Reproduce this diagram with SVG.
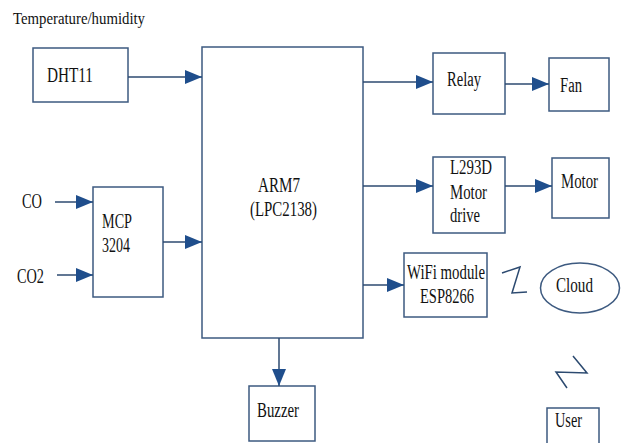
<svg xmlns="http://www.w3.org/2000/svg" width="626" height="443" viewBox="0 0 626 443">
<style>
.box{fill:#fff;stroke:#3d5a80;stroke-width:1.5}
.t{font-family:"Liberation Serif",serif;font-size:20px;fill:#111}
.c{fill:none;stroke:#2c4a70;stroke-width:1.5}
.z{fill:none;stroke:#2c4a70;stroke-width:1.5;stroke-linejoin:miter}
</style>
<defs>
<marker id="ah" markerUnits="userSpaceOnUse" markerWidth="17" markerHeight="14" refX="17" refY="7" orient="auto">
<path d="M0,0 L17,7 L0,14 z" fill="#1f4e8c"/>
</marker>
</defs>
<rect width="626" height="443" fill="#fff"/>
<text class="t" x="13" y="24" style="font-size:16.5px" textLength="132" lengthAdjust="spacingAndGlyphs">Temperature/humidity</text>
<text class="t" x="22" y="208" textLength="20" lengthAdjust="spacingAndGlyphs">CO</text>
<text class="t" x="17" y="283" textLength="27" lengthAdjust="spacingAndGlyphs">CO2</text>
<g id="dht11"><rect class="box" x="33" y="48" width="95" height="54"/><text class="t" x="47" y="82" textLength="46" lengthAdjust="spacingAndGlyphs">DHT11</text></g>
<g id="mcp"><rect class="box" x="93" y="187" width="70" height="110"/><text class="t" x="102" y="228" textLength="30" lengthAdjust="spacingAndGlyphs">MCP</text><text class="t" x="102" y="252" textLength="28" lengthAdjust="spacingAndGlyphs">3204</text></g>
<g id="arm7"><rect class="box" x="202" y="47" width="161" height="291"/><text class="t" x="258" y="192" textLength="42" lengthAdjust="spacingAndGlyphs">ARM7</text><text class="t" x="250" y="216" textLength="67" lengthAdjust="spacingAndGlyphs">(LPC2138)</text></g>
<g id="relay"><rect class="box" x="433" y="53" width="72" height="61"/><text class="t" x="447" y="86" textLength="34" lengthAdjust="spacingAndGlyphs">Relay</text></g>
<g id="fan"><rect class="box" x="549" y="58" width="60" height="53"/><text class="t" x="560" y="92" textLength="22" lengthAdjust="spacingAndGlyphs">Fan</text></g>
<g id="l293d"><rect class="box" x="433" y="157" width="72" height="76"/><text class="t" x="450" y="174" textLength="42" lengthAdjust="spacingAndGlyphs">L293D</text><text class="t" x="450" y="199" textLength="37" lengthAdjust="spacingAndGlyphs">Motor</text><text class="t" x="450" y="222" textLength="30" lengthAdjust="spacingAndGlyphs">drive</text></g>
<g id="motor"><rect class="box" x="552" y="158" width="57" height="60"/><text class="t" x="561" y="188" textLength="37" lengthAdjust="spacingAndGlyphs">Motor</text></g>
<g id="wifi"><rect class="box" x="404" y="253" width="83" height="64"/><text class="t" x="407" y="279" textLength="78" lengthAdjust="spacingAndGlyphs">WiFi module</text><text class="t" x="420" y="303" textLength="54" lengthAdjust="spacingAndGlyphs">ESP8266</text></g>
<g id="cloud"><ellipse class="box" cx="580" cy="288" rx="39.5" ry="25"/><text class="t" x="556" y="292" textLength="37" lengthAdjust="spacingAndGlyphs">Cloud</text></g>
<g id="user"><rect class="box" x="547" y="408" width="52" height="40"/><text class="t" x="555" y="427" textLength="27" lengthAdjust="spacingAndGlyphs">User</text></g>
<g id="buzzer"><rect class="box" x="249" y="386" width="66" height="55"/><text class="t" x="257" y="417" textLength="42" lengthAdjust="spacingAndGlyphs">Buzzer</text></g>
<g id="connectors">
<line class="c" x1="128" y1="77" x2="202" y2="77" marker-end="url(#ah)"/>
<line class="c" x1="55" y1="202" x2="93" y2="202" marker-end="url(#ah)"/>
<line class="c" x1="57" y1="275" x2="93" y2="275" marker-end="url(#ah)"/>
<line class="c" x1="163" y1="242" x2="202" y2="242" marker-end="url(#ah)"/>
<line class="c" x1="363" y1="82" x2="433" y2="82" marker-end="url(#ah)"/>
<line class="c" x1="505" y1="84" x2="549" y2="84" marker-end="url(#ah)"/>
<line class="c" x1="363" y1="186" x2="433" y2="186" marker-end="url(#ah)"/>
<line class="c" x1="505" y1="186" x2="552" y2="186" marker-end="url(#ah)"/>
<line class="c" x1="363" y1="285" x2="404" y2="285" marker-end="url(#ah)"/>
<line class="c" x1="279" y1="338" x2="279" y2="386" marker-end="url(#ah)"/>
<polyline class="z" points="502,273 520,267 512,293 527,292"/>
<polyline class="z" points="573,356 587,373 556,372 567,388"/>
</g>
</svg>
